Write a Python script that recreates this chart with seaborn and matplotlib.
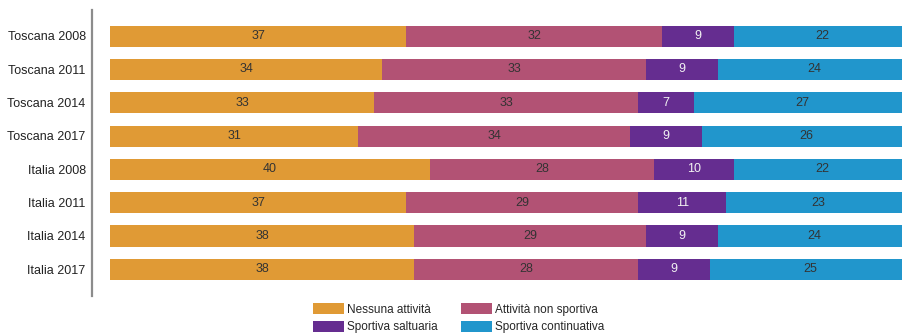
import matplotlib
matplotlib.use("Agg")
import matplotlib.pyplot as plt
import seaborn as sns
import pandas as pd
import numpy as np
from matplotlib.patches import Patch

sns.set_theme(style="white")
plt.rcParams["font.family"] = ["Liberation Sans", "DejaVu Sans"]

categories = ["Toscana 2008", "Toscana 2011", "Toscana 2014", "Toscana 2017",
              "Italia 2008", "Italia 2011", "Italia 2014", "Italia 2017"]
series_names = ["Nessuna attività", "Attività non sportiva",
                "Sportiva saltuaria", "Sportiva continuativa"]
nessuna = [37, 34, 33, 31, 40, 37, 38, 38]
non_sportiva = [32, 33, 33, 34, 28, 29, 29, 28]
saltuaria = [9, 9, 7, 9, 10, 11, 9, 9]
continuativa = [22, 24, 27, 26, 22, 23, 24, 25]

colors = ["#E09A35", "#B25274", "#652D90", "#2196CC"]
text_colors = ["#333333", "#333333", "#F2F2F2", "#333333"]

values = np.array([nessuna, non_sportiva, saltuaria, continuativa], dtype=float)
cum = values.cumsum(axis=0)
starts = cum - values

fig = plt.figure(figsize=(9.03, 3.35), dpi=100)
ax = fig.add_axes([92 / 903, 1 - 296 / 335, 1 - 92 / 903, 286 / 335])

# stacked bars: draw cumulative totals from the outermost layer inward
for i in range(len(series_names) - 1, -1, -1):
    df = pd.DataFrame({"cat": categories, "val": cum[i]})
    sns.barplot(data=df, x="val", y="cat", orient="h", color=colors[i],
                width=0.63, linewidth=0, saturation=1, ax=ax)

for i in range(len(series_names)):
    for j in range(len(categories)):
        ax.text(starts[i, j] + values[i, j] / 2, j, f"{values[i, j]:.0f}",
                ha="center", va="center", fontsize=9, color=text_colors[i])

ax.set_xlim(-2.25, 99.1)
ax.set_ylim(7.8, -0.78)
ax.set_xlabel("")
ax.set_ylabel("")
ax.set_xticks([])
ax.tick_params(axis="y", length=0, pad=4.5, labelsize=9, labelcolor="#222222")
for s in ["top", "right", "bottom"]:
    ax.spines[s].set_visible(False)
ax.spines["left"].set_color("#8C8C8C")
ax.spines["left"].set_linewidth(1.6)

order = [0, 2, 1, 3]
handles = [Patch(facecolor=colors[k], edgecolor="none") for k in order]
labels = [series_names[k] for k in order]
fig.legend(handles, labels, ncol=2, loc="upper left",
           bbox_to_anchor=(313 / 903, 1 - 303 / 335), frameon=False,
           fontsize=8.5, handlelength=2.6, handleheight=1.05, handletextpad=0.3,
           columnspacing=1.95, labelspacing=0.45, borderpad=0, borderaxespad=0)

fig.savefig("out.png", dpi=100)
